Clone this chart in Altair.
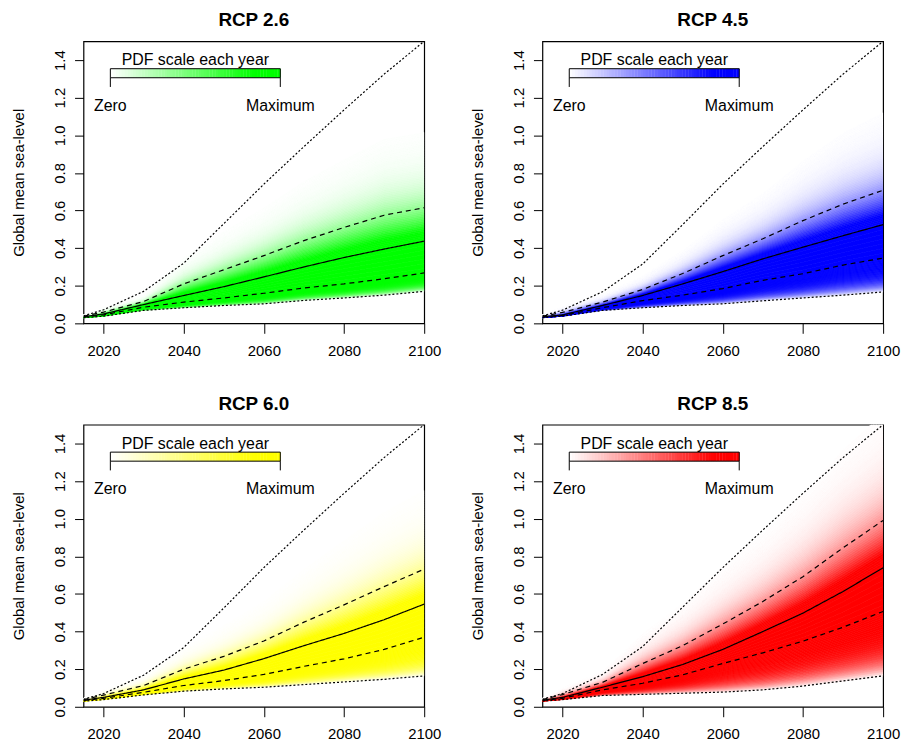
import altair as alt
import numpy as np
import pandas as pd

FONT = "Liberation Sans"

years = [2015, 2020, 2030, 2040, 2050, 2060, 2070, 2080, 2090, 2100]

titles = ["RCP 2.6", "RCP 4.5", "RCP 6.0", "RCP 8.5"]
colors = ["#00ff00", "#0000ff", "#ffff00", "#ff0000"]

# RCP 2.6
rcp26_hi_dot = [0.040, 0.072, 0.170, 0.320, 0.530, 0.740, 0.940, 1.135, 1.325, 1.500]
rcp26_hi_dash = [0.038, 0.060, 0.116, 0.210, 0.285, 0.360, 0.440, 0.510, 0.575, 0.615]
rcp26_median = [0.035, 0.050, 0.100, 0.148, 0.195, 0.247, 0.300, 0.350, 0.395, 0.437]
rcp26_lo_dash = [0.033, 0.045, 0.086, 0.113, 0.135, 0.160, 0.188, 0.210, 0.237, 0.268]
rcp26_lo_dot = [0.030, 0.038, 0.069, 0.083, 0.095, 0.104, 0.122, 0.135, 0.150, 0.170]

# RCP 4.5
rcp45_hi_dot = [0.040, 0.070, 0.168, 0.315, 0.525, 0.740, 0.940, 1.135, 1.325, 1.500]
rcp45_hi_dash = [0.038, 0.058, 0.113, 0.180, 0.265, 0.360, 0.450, 0.546, 0.634, 0.708]
rcp45_median = [0.035, 0.045, 0.095, 0.148, 0.210, 0.275, 0.343, 0.405, 0.466, 0.525]
rcp45_lo_dash = [0.033, 0.042, 0.083, 0.121, 0.150, 0.185, 0.229, 0.264, 0.310, 0.347]
rcp45_lo_dot = [0.030, 0.038, 0.069, 0.083, 0.095, 0.104, 0.120, 0.135, 0.150, 0.167]

# RCP 6.0
rcp60_hi_dot = [0.040, 0.070, 0.168, 0.315, 0.525, 0.740, 0.940, 1.135, 1.325, 1.500]
rcp60_hi_dash = [0.038, 0.062, 0.113, 0.200, 0.268, 0.350, 0.450, 0.542, 0.639, 0.732]
rcp60_median = [0.035, 0.050, 0.090, 0.148, 0.195, 0.256, 0.325, 0.390, 0.463, 0.546]
rcp60_lo_dash = [0.033, 0.045, 0.077, 0.113, 0.139, 0.172, 0.215, 0.255, 0.305, 0.370]
rcp60_lo_dot = [0.030, 0.038, 0.063, 0.083, 0.095, 0.104, 0.118, 0.132, 0.146, 0.164]

# RCP 8.5
rcp85_hi_dot = [0.040, 0.070, 0.172, 0.320, 0.530, 0.740, 0.940, 1.135, 1.325, 1.500]
rcp85_hi_dash = [0.038, 0.065, 0.130, 0.230, 0.325, 0.440, 0.560, 0.692, 0.845, 0.991]
rcp85_median = [0.035, 0.050, 0.104, 0.160, 0.225, 0.305, 0.400, 0.498, 0.613, 0.739]
rcp85_lo_dash = [0.033, 0.045, 0.090, 0.125, 0.170, 0.230, 0.287, 0.349, 0.423, 0.507]
rcp85_lo_dot = [0.030, 0.038, 0.060, 0.066, 0.072, 0.078, 0.090, 0.110, 0.137, 0.164]

series = [
    (rcp26_hi_dot, rcp26_hi_dash, rcp26_median, rcp26_lo_dash, rcp26_lo_dot),
    (rcp45_hi_dot, rcp45_hi_dash, rcp45_median, rcp45_lo_dash, rcp45_lo_dot),
    (rcp60_hi_dot, rcp60_hi_dash, rcp60_median, rcp60_lo_dash, rcp60_lo_dot),
    (rcp85_hi_dot, rcp85_hi_dash, rcp85_median, rcp85_lo_dash, rcp85_lo_dot),
]

legend_title = "PDF scale each year"
legend_labels = ["Zero", "Maximum"]
x_ticks = [2020, 2040, 2060, 2080, 2100]
y_ticks = [0.0, 0.2, 0.4, 0.6, 0.8, 1.0, 1.2, 1.4]

# legend placement (data units of each panel)
LEG_X0, LEG_X1 = 2021.7, 2064.1
LEG_Y0, LEG_Y1 = 1.306, 1.354
LEG_TICK_Y = 1.257


def band_frame(hi_dash, med, lo_dash, lo_dot):
    D2 = np.array(hi_dash)
    M = np.array(med)
    D1 = np.array(lo_dash)
    L = np.array(lo_dot)
    rows = []
    bid = 0

    def add(ya, yb, inten):
        nonlocal bid
        for k, yr in enumerate(years):
            rows.append({"band": bid, "year": yr, "y1": float(ya[k]),
                         "y2": float(yb[k]), "I": float(inten)})
        bid += 1

    # lower tail between lower dotted and lower dashed
    r_edges = np.linspace(1.0, 0.0, 31)
    for a, b in zip(r_edges[:-1], r_edges[1:]):
        rm = 0.5 * (a + b)
        add(D1 - a * (D1 - L), D1 - b * (D1 - L), 0.85 * (1 - rm ** 4))
    # core between lower dashed and median
    t_edges = np.linspace(1.0, 0.0, 8)
    for a, b in zip(t_edges[:-1], t_edges[1:]):
        tm = 0.5 * (a + b)
        add(M - a * (M - D1), M - b * (M - D1), 1 - 0.15 * tm ** 2)
    # upper side, scaled on the median -> upper dashed spread
    u_edges = np.arange(0.0, 3.3, 0.05)
    for a, b in zip(u_edges[:-1], u_edges[1:]):
        tm = 0.5 * (a + b)
        add(M + a * (D2 - M), M + b * (D2 - M), np.exp(-tm ** 1.4))
    return pd.DataFrame(rows)


kinds = ["hi_dot", "hi_dash", "median", "lo_dash", "lo_dot"]
dashes = [[2, 2], [5, 4], [1, 0], [5, 4], [2, 2]]

xs = alt.Scale(domain=[2015, 2100], nice=False, zero=False)
ys = alt.Scale(domain=[0, 1.5], nice=False, zero=False)

x_axis = alt.Axis(values=x_ticks, format="d", tickSize=10, labelPadding=10,
                  title=None, labelFontSize=15, labelFlush=False)
y_axis = alt.Axis(values=y_ticks, format=".1f", tickSize=9, labelPadding=7,
                  labelAngle=270, labelAlign="center", labelBaseline="bottom",
                  title="Global mean sea-level", titlePadding=26,
                  labelFontSize=15, titleFontSize=15)


def panel(i):
    hi_dot, hi_dash, med, lo_dash, lo_dot = series[i]
    col = colors[i]
    cscale = alt.Scale(domain=[0, 0.85], range=["#ffffff", col], clamp=True,
                       interpolate="rgb")

    bdf = band_frame(hi_dash, med, lo_dash, lo_dot)
    band = alt.Chart(bdf).mark_area(clip=True, strokeWidth=0.7).encode(
        x=alt.X("year:Q", scale=xs, axis=x_axis),
        y=alt.Y("y1:Q", scale=ys, axis=y_axis, stack=None),
        y2="y2:Q",
        detail="band:N",
        color=alt.Color("I:Q", scale=cscale, legend=None),
        stroke=alt.Stroke("I:Q", scale=cscale, legend=None),
    )

    ldf = pd.DataFrame(
        [{"year": yr, "val": v, "kind": k}
         for k, arr in zip(kinds, [hi_dot, hi_dash, med, lo_dash, lo_dot])
         for yr, v in zip(years, arr)]
    )
    lines = alt.Chart(ldf).mark_line(clip=True, strokeWidth=1.2, color="black").encode(
        x=alt.X("year:Q", scale=xs, axis=x_axis),
        y=alt.Y("val:Q", scale=ys, axis=y_axis),
        detail="kind:N",
        strokeDash=alt.StrokeDash("kind:N", scale=alt.Scale(domain=kinds, range=dashes),
                                  legend=None),
    )

    n = 60
    gx = np.linspace(LEG_X0, LEG_X1, n + 1)
    gdf = pd.DataFrame({"gx0": gx[:-1], "gx1": gx[1:] + 0.08,
                        "v": (np.arange(n) + 0.5) / n})
    grad = alt.Chart(gdf).mark_rect(strokeWidth=0).encode(
        x=alt.X("gx0:Q", scale=xs, axis=x_axis),
        x2="gx1:Q",
        y=alt.Y(datum=LEG_Y0, scale=ys, axis=y_axis),
        y2=alt.Y2(datum=LEG_Y1),
        color=alt.Color("v:Q", scale=cscale, legend=None),
    )
    border = alt.Chart(pd.DataFrame({"a": [0]})).mark_rect(
        fillOpacity=0, stroke="black", strokeWidth=1).encode(
        x=alt.X(datum=LEG_X0, scale=xs, axis=x_axis),
        x2=alt.X2(datum=LEG_X1),
        y=alt.Y(datum=LEG_Y0, scale=ys, axis=y_axis),
        y2=alt.Y2(datum=LEG_Y1),
    )
    tdf = pd.DataFrame({"tx": [LEG_X0, LEG_X1]})
    ticks = alt.Chart(tdf).mark_rule(color="black", strokeWidth=1).encode(
        x=alt.X("tx:Q", scale=xs, axis=x_axis),
        y=alt.Y(datum=LEG_TICK_Y, scale=ys, axis=y_axis),
        y2=alt.Y2(datum=LEG_Y0),
    )
    txt_df = pd.DataFrame({
        "tx": [LEG_X0, LEG_X1],
        "label": legend_labels,
    })
    labels = alt.Chart(txt_df).mark_text(font=FONT, fontSize=16, color="black",
                                         baseline="middle", align="center").encode(
        x=alt.X("tx:Q", scale=xs, axis=x_axis),
        y=alt.Y(datum=1.157, scale=ys, axis=y_axis),
        text="label:N",
    )
    head = alt.Chart(pd.DataFrame({"label": [legend_title]})).mark_text(
        font=FONT, fontSize=16, color="black", baseline="alphabetic",
        align="center").encode(
        x=alt.X(datum=(LEG_X0 + LEG_X1) / 2, scale=xs, axis=x_axis),
        y=alt.Y(datum=1.372, scale=ys, axis=y_axis),
        text="label:N",
    )

    return alt.layer(band, lines, grad, border, ticks, labels, head).properties(
        width=343, height=284,
        title=alt.TitleParams(titles[i], fontSize=19, fontWeight="bold", font=FONT,
                              color="black", anchor="middle", offset=11),
    )


chart = alt.concat(
    panel(0), panel(1), panel(2), panel(3),
    columns=2, spacing={"row": 102, "column": 119}, bounds="flush",
).resolve_scale(
    color="independent", stroke="independent"
).properties(
    padding={"left": 3, "top": 0, "right": 0, "bottom": 0}
).configure_view(
    stroke="black", strokeWidth=1.2
).configure_axis(
    labelFont=FONT, titleFont=FONT, labelColor="black", titleColor="black",
    tickColor="black", domain=False, grid=False, titleFontWeight="normal",
)

chart.save("out.html", embed_options={"renderer": "svg", "actions": False})
